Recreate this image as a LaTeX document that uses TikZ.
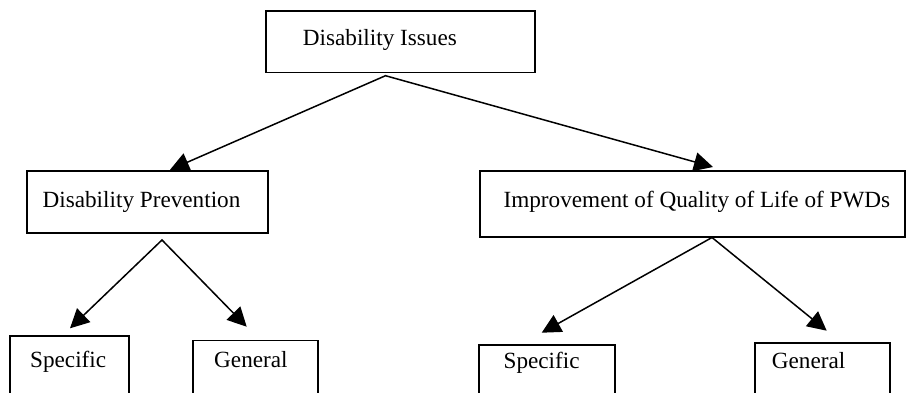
\documentclass[tikz,border=0pt]{standalone}
\usepackage{fontspec}
\setmainfont{Liberation Serif}
\usetikzlibrary{arrows.meta}
\newcommand{\bxtext}[3]{\hbox to #1pt{\hskip #2pt\relax #3\hss}}
\tikzset{
  box/.style={draw, line width=1.8pt, fill=white, anchor=base west,
    inner xsep=0pt, inner ysep=0pt, font=\fontsize{23.2}{28}\selectfont},
  arr/.style={line width=1.5pt, line join=miter,
    {Triangle[length=19pt,width=19pt]}-{Triangle[length=19pt,width=19pt]}}
}
\begin{document}
\begin{tikzpicture}[x=1pt,y=-1pt]
\useasboundingbox (0,0) rectangle (908,392);
\clip (0,0) rectangle (908,392);
% boxes
\node[box, text height=35pt, text depth=26.8pt] (top) at (265,45.7)
  {\bxtext{269}{37}{Disability Issues}};
\node[box, text height=36.6pt, text depth=25.4pt] (dp) at (26,207.3)
  {\bxtext{241.3}{15.7}{Disability Prevention}};
\node[box, text height=36.3pt, text depth=30pt] (imp) at (478.7,207.3)
  {\bxtext{425.3}{24}{Improvement of Quality of Life of PWDs}};
\node[box, text height=31.3pt, text depth=33pt] (sl) at (9.3,367)
  {\bxtext{119}{20}{Specific}};
\node[box, text height=26.5pt, text depth=33pt] (gl) at (192,367)
  {\bxtext{124.7}{21.3}{General}};
\node[box, text height=23.3pt, text depth=32pt] (sr) at (478,368)
  {\bxtext{136}{24.7}{Specific}};
\node[box, text height=24.7pt, text depth=32pt] (gr) at (754.3,368)
  {\bxtext{135}{16.7}{General}};
% branch points and arrow ends
\coordinate (a0) at (385.5,75.7);
\coordinate (t1) at (170,0 |- dp.north);
\coordinate (t2) at (713,167);
\coordinate (a1) at (162,240);
\coordinate (t3) at (70,328.3);
\coordinate (t4) at (246.7,326.7);
\coordinate (a2) at (712,237.5);
\coordinate (t5) at (541.7,332.7);
\coordinate (t6) at (826.7,330.7);
% connectors
\draw[arr] (t1) -- (a0) -- (t2);
\draw[arr] (t3) -- (a1) -- (t4);
\draw[arr] (t5) -- (a2) -- (t6);
\end{tikzpicture}
\end{document}
